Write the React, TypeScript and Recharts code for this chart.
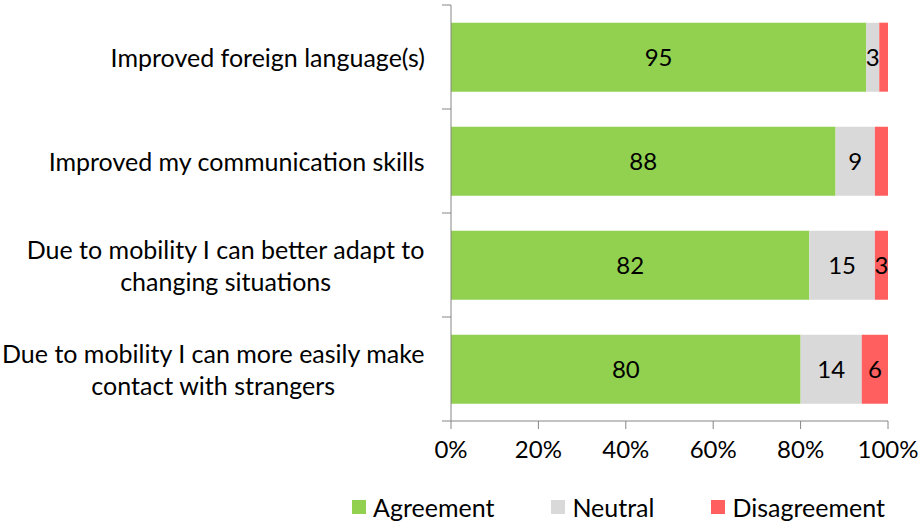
import { Bar, BarChart, LabelList, Legend, XAxis, YAxis } from "recharts";

const categories = [
  "Improved foreign language(s)",
  "Improved my communication skills",
  "Due to mobility I can better adapt to\nchanging situations",
  "Due to mobility I can more easily make\ncontact with strangers",
];
const agreement = [95, 88, 82, 80];
const neutral = [3, 9, 15, 14];
const disagreement = [2, 3, 3, 6];
// the first two disagreement values have no label in the original
const disagreementLabels = ["", "", "3", "6"];
const xTicks = [0, 20, 40, 60, 80, 100];

const FONT = "Lato, 'Open Sans', sans-serif";
const AXIS = "#868686";
const COLORS = { agreement: "#92D050", neutral: "#D9D9D9", disagreement: "#FF5F5F" };

const WIDTH = 921;
const HEIGHT = 525;
const MARGIN = { top: 5, right: 33, left: 0, bottom: 0 };
const LEGEND_H = 36;
const XAXIS_H = 68;
const BAND = (HEIGHT - MARGIN.top - LEGEND_H - XAXIS_H) / categories.length;

const data = categories.map((name, i) => ({
  name,
  agreement: agreement[i],
  neutral: neutral[i],
  disagreement: disagreement[i],
  disagreementLabel: disagreementLabels[i],
}));

let ctx: CanvasRenderingContext2D | null = null;
function measure(text: string, size: number) {
  if (!ctx) ctx = document.createElement("canvas").getContext("2d");
  if (!ctx) return text.length * size * 0.5;
  ctx.font = `${size}px ${FONT}`;
  return ctx.measureText(text).width;
}

function CategoryTick({ x, y, payload, index }: any) {
  const lines = String(payload.value).split("\n");
  const block = Math.max(...lines.map((l) => measure(l, 25)));
  const cx = x - 26 - block / 2;
  const top = y - ((lines.length - 1) * 32) / 2;
  const isLast = index === categories.length - 1;
  return (
    <g>
      <line x1={x - 9} x2={x} y1={y - BAND / 2} y2={y - BAND / 2} stroke={AXIS} />
      {isLast && <line x1={x - 9} x2={x} y1={y + BAND / 2} y2={y + BAND / 2} stroke={AXIS} />}
      <text textAnchor="middle" fontSize={25} fontFamily={FONT} fill="#000">
        {lines.map((l, i) => (
          <tspan key={i} x={cx} y={top + i * 32} dominantBaseline="central">
            {l}
          </tspan>
        ))}
      </text>
    </g>
  );
}

function LegendContent() {
  const items = [
    { label: "Agreement", color: COLORS.agreement },
    { label: "Neutral", color: COLORS.neutral },
    { label: "Disagreement", color: COLORS.disagreement },
  ];
  return (
    <div style={{ display: "flex", paddingLeft: 352, height: LEGEND_H, alignItems: "center", fontFamily: FONT, fontSize: 25 }}>
      {items.map((it) => (
        <div key={it.label} style={{ display: "flex", alignItems: "center", marginRight: 57 }}>
          <span style={{ width: 14, height: 14, background: it.color, marginRight: 7, display: "inline-block" }} />
          <span>{it.label}</span>
        </div>
      ))}
    </div>
  );
}

export default function App() {
  return (
    <div style={{ position: "absolute", left: 0, top: 0, background: "#fff" }}>
      <BarChart
        width={WIDTH}
        height={HEIGHT}
        data={data}
        layout="vertical"
        margin={MARGIN}
        barCategoryGap="17%"
      >
        <YAxis
          type="category"
          dataKey="name"
          width={451}
          tick={<CategoryTick />}
          tickSize={0}
          tickMargin={0}
          axisLine={{ stroke: AXIS }}
          tickLine={false}
          interval={0}
        />
        <XAxis
          type="number"
          domain={[0, 100]}
          ticks={xTicks}
          tickFormatter={(v) => `${v}%`}
          tickSize={8}
          tickMargin={12}
          height={XAXIS_H}
          stroke={AXIS}
          tick={{ fill: "#000", fontSize: 24, fontFamily: FONT }}
          interval={0}
        />
        <Legend verticalAlign="bottom" height={LEGEND_H} wrapperStyle={{ left: 0, width: WIDTH }} content={<LegendContent />} />
        <Bar dataKey="agreement" stackId="a" fill={COLORS.agreement} isAnimationActive={false}>
          <LabelList dataKey="agreement" position="center" fill="#000" fontSize={24} fontFamily={FONT} />
        </Bar>
        <Bar dataKey="neutral" stackId="a" fill={COLORS.neutral} isAnimationActive={false}>
          <LabelList dataKey="neutral" position="center" fill="#000" fontSize={24} fontFamily={FONT} />
        </Bar>
        <Bar dataKey="disagreement" stackId="a" fill={COLORS.disagreement} isAnimationActive={false}>
          <LabelList dataKey="disagreementLabel" position="center" fill="#000" fontSize={24} fontFamily={FONT} />
        </Bar>
      </BarChart>
    </div>
  );
}
